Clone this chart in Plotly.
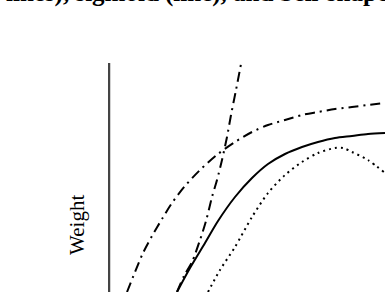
import plotly.graph_objects as go

# Curves (x: horizontal position, y: weight), arbitrary units
sig_x = [69, 82, 97, 110, 127, 144, 160, 177, 194, 210, 227, 244, 260, 277]
sig_y = [0, 24, 49, 71, 95, 114, 128, 138, 145, 150, 154, 156, 158, 159]

bell_x = [100, 112, 127, 144, 160, 177, 194, 210, 227, 235, 244, 260, 277]
bell_y = [0, 22, 45, 75, 99, 117, 130, 139, 144, 144, 140, 132, 119]

log_x = [19, 27, 35, 44, 54, 64, 77, 92, 110, 127, 144, 160, 177, 194, 210, 227, 244, 260, 277]
log_y = [0, 20, 39, 56, 73, 89, 106, 122, 138, 150, 160, 167, 172, 177, 180, 183, 185, 187, 189]

lin_x = [69, 76, 84, 92, 98, 104, 109, 114, 119, 123, 128, 133]
lin_y = [0, 16, 30, 52, 71, 95, 112, 132, 155, 177, 202, 228]

title_text = "lines), sigmoid (line), and bell-shaped"
y_label = "Weight"

fig = go.Figure()
dashdot = "10px,5px,2px,5px"
fig.add_trace(go.Scatter(x=log_x, y=log_y, mode="lines", line=dict(color="black", width=2, dash=dashdot, shape="spline", smoothing=0.8)))
fig.add_trace(go.Scatter(x=lin_x, y=lin_y, mode="lines", line=dict(color="black", width=2, dash=dashdot, shape="spline", smoothing=0.8)))
fig.add_trace(go.Scatter(x=bell_x, y=bell_y, mode="lines", line=dict(color="black", width=2, dash="2px,4px", shape="spline", smoothing=0.8)))
fig.add_trace(go.Scatter(x=sig_x, y=sig_y, mode="lines", line=dict(color="black", width=2, shape="spline", smoothing=0.8)))

fig.add_shape(type="line", xref="x", yref="paper", x0=1, x1=1, y0=-0.02, y1=1,
              line=dict(color="#444444", width=2.5))

fig.add_annotation(text=y_label, xref="paper", yref="paper", x=-0.112, y=0.293,
                   xanchor="center", yanchor="middle", textangle=-90, showarrow=False,
                   font=dict(family="Liberation Serif, Times New Roman, serif", size=21, color="black"))
fig.add_annotation(text="<b>" + title_text + "</b>", xref="paper", yref="paper",
                   x=(4 - 108) / 277, y=1 + 54 / 229, xanchor="left", yanchor="bottom",
                   showarrow=False,
                   font=dict(family="Liberation Serif, Times New Roman, serif", size=25, color="black"))

fig.update_layout(
    width=385, height=292,
    margin=dict(l=108, r=0, t=63, b=0),
    paper_bgcolor="white", plot_bgcolor="white",
    showlegend=False,
    xaxis=dict(range=[0, 277], visible=False, fixedrange=True),
    yaxis=dict(range=[0, 229], visible=False, fixedrange=True),
)
fig.write_html("out.html", config={"displayModeBar": False})
